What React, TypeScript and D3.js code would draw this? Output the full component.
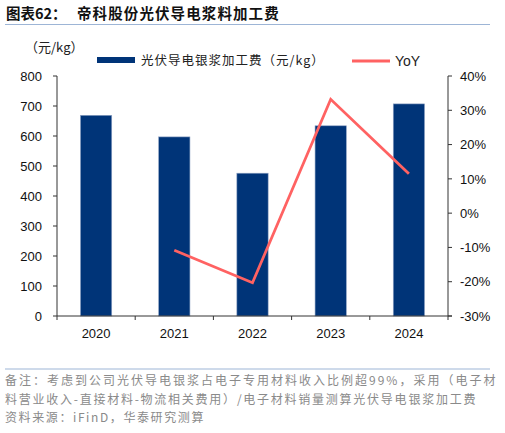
import { useMemo } from "react";
import * as d3 from "d3";

const years = ["2020", "2021", "2022", "2023", "2024"];
const processingFee = [669, 597, 476, 634, 707];
const yoy = [null, -10.8, -20.3, 33.2, 11.5];
const leftTicks = [0, 100, 200, 300, 400, 500, 600, 700, 800];
const rightTicks = [-30, -20, -10, 0, 10, 20, 30, 40];

const footerLines = [
  "备注：考虑到公司光伏导电银浆占电子专用材料收入比例超99%，采用（电子材",
  "料营业收入-直接材料-物流相关费用）/电子材料销量测算光伏导电银浆加工费",
  "资料来源：iFinD，华泰研究测算",
];
// justified widths of the footer lines (last line left natural)
const footerWidths = [492, 472, null];

const W = 505;
const H = 433;
const BAR = "#003478";
const LINE = "#FF6262";
const CJK = "'Noto Sans CJK SC', 'Liberation Sans', sans-serif";
const LATIN = "'Liberation Sans', Arial, sans-serif";

export default function App() {
  const margin = { left: 57, right: 57, top: 76, bottom: 117 };
  const x0 = margin.left;
  const x1 = W - margin.right;
  const yBottom = H - margin.bottom;

  const x = useMemo(
    () => d3.scaleBand().domain(years).range([x0, x1]).paddingInner(0.6).paddingOuter(0.3),
    [x0, x1],
  );
  const xb = useMemo(() => d3.scaleBand().domain(years).range([x0, x1]), [x0, x1]);
  const yL = useMemo(() => d3.scaleLinear().domain([0, 800]).range([yBottom, margin.top]), [yBottom]);
  const yR = useMemo(() => d3.scaleLinear().domain([-30, 40]).range([yBottom, margin.top]), [yBottom]);

  const linePts = years
    .map((yr, i) => ({ yr, v: yoy[i] }))
    .filter((d) => d.v !== null) as { yr: string; v: number }[];
  const line = d3
    .line<{ yr: string; v: number }>()
    .x((d) => (xb(d.yr) ?? 0) + xb.bandwidth() / 2)
    .y((d) => yR(d.v));

  return (
    <svg
      width={W}
      height={H}
      style={{ position: "absolute", left: 0, top: 0, background: "#fff" }}
    >
      {/* Title */}
      <text x={6} y={19} fontFamily={CJK} fontWeight="bold" fontSize={14.5} fill="#111">
        图表62：
      </text>
      <text
        x={77}
        y={19}
        fontFamily={CJK}
        fontWeight="bold"
        fontSize={14.5}
        fill="#111"
        letterSpacing={1.1}
      >
        帝科股份光伏导电浆料加工费
      </text>
      <line x1={5} x2={490} y1={24.5} y2={24.5} stroke="#9DB5D6" strokeWidth={1} />

      {/* Unit */}
      <text x={25} y={52} fontFamily={CJK} fontSize={13} fill="#222">
        （元/kg）
      </text>

      {/* Legend */}
      <rect x={97} y={57} width={38} height={6} fill={BAR} />
      <text x={141} y={65} fontFamily={CJK} fontSize={12.5} fill="#222" letterSpacing={1}>
        光伏导电银浆加工费（元/kg）
      </text>
      <line x1={352} x2={390} y1={61} y2={61} stroke={LINE} strokeWidth={3} />
      <text x={395} y={66} fontFamily={LATIN} fontSize={14} fill="#222">
        YoY
      </text>

      {/* Bars */}
      {years.map((yr, i) => (
        <rect
          key={yr}
          x={x(yr)}
          y={yL(processingFee[i])}
          width={x.bandwidth()}
          height={yBottom - yL(processingFee[i])}
          fill={BAR}
          stroke="#8FA3C4"
          strokeWidth={0.6}
        />
      ))}

      {/* YoY line */}
      <path d={line(linePts) ?? ""} fill="none" stroke={LINE} strokeWidth={2.8} strokeLinejoin="miter" />

      {/* Left axis */}
      <line x1={x0} x2={x0} y1={margin.top} y2={yBottom} stroke="#333" />
      {leftTicks.map((t) => (
        <g key={t}>
          <line x1={x0 - 4} x2={x0} y1={yL(t)} y2={yL(t)} stroke="#333" />
          <text
            x={x0 - 15}
            y={yL(t)}
            dy="0.36em"
            textAnchor="end"
            fontFamily={LATIN}
            fontSize={13}
            fill="#111"
          >
            {t}
          </text>
        </g>
      ))}

      {/* Right axis */}
      <line x1={x1} x2={x1} y1={margin.top} y2={yBottom} stroke="#333" />
      {rightTicks.map((t) => (
        <g key={t}>
          <line x1={x1} x2={x1 + 4} y1={yR(t)} y2={yR(t)} stroke="#333" />
          <text x={x1 + 12} y={yR(t)} dy="0.36em" fontFamily={LATIN} fontSize={13} fill="#111">
            {t}%
          </text>
        </g>
      ))}

      {/* X axis */}
      <line x1={x0} x2={x1 + 4} y1={yBottom} y2={yBottom} stroke="#333" />
      {years.map((yr) => (
        <g key={yr}>
          <line
            x1={xb(yr) ?? 0}
            x2={xb(yr) ?? 0}
            y1={yBottom}
            y2={yBottom + 4}
            stroke="#333"
          />
          <text
            x={(xb(yr) ?? 0) + xb.bandwidth() / 2}
            y={yBottom + 22}
            textAnchor="middle"
            fontFamily={LATIN}
            fontSize={13}
            fill="#111"
          >
            {yr}
          </text>
        </g>
      ))}
      <line x1={x1} x2={x1} y1={yBottom} y2={yBottom + 4} stroke="#333" />

      {/* Footer */}
      <line x1={5} x2={490} y1={369} y2={369} stroke="#9DB5D6" strokeWidth={1} />
      {footerLines.map((s, i) => (
        <text
          key={i}
          x={5}
          y={385 + i * 18.5}
          fontFamily={CJK}
          fontSize={12}
          fill="#8A8A8A"
          letterSpacing={1.6}
          textLength={footerWidths[i] ?? undefined}
          lengthAdjust={footerWidths[i] ? "spacing" : undefined}
        >
          {s}
        </text>
      ))}
    </svg>
  );
}
